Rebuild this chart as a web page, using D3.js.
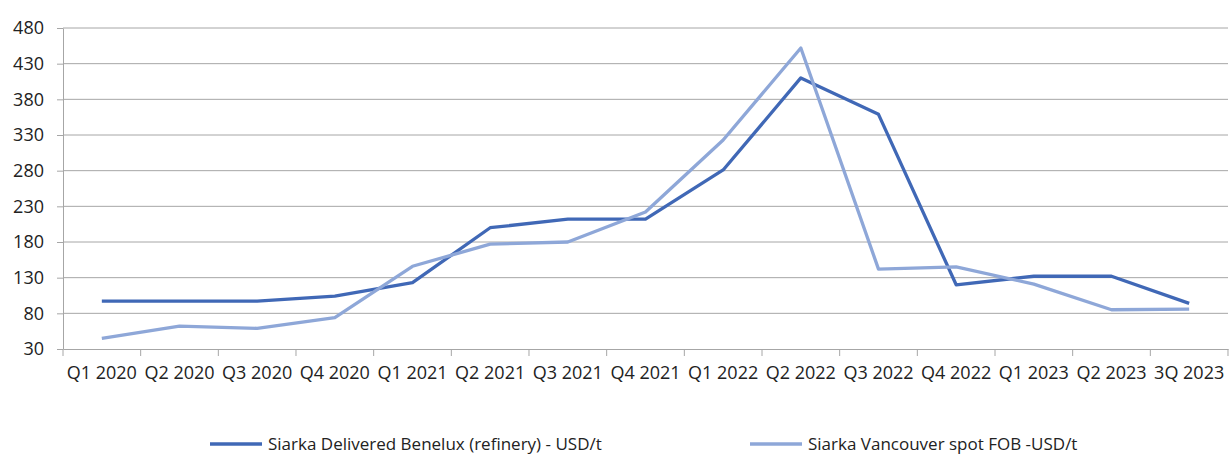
<!DOCTYPE html>
<html>
<head>
<meta charset="utf-8">
<script src="https://cdn.jsdelivr.net/npm/d3@7"></script>
<style>
  body { margin: 0; background: #fff; }
  text { font-family: "Open Sans", "Liberation Sans", sans-serif; fill: #222; }
</style>
</head>
<body>
<svg id="chart" width="1231" height="454"></svg>
<script>
// quarters on the x axis
const quarters = ["Q1 2020", "Q2 2020", "Q3 2020", "Q4 2020", "Q1 2021", "Q2 2021", "Q3 2021",
  "Q4 2021", "Q1 2022", "Q2 2022", "Q3 2022", "Q4 2022", "Q1 2023", "Q2 2023", "3Q 2023"];

// Siarka Delivered Benelux (refinery) - USD/t
const benelux = [97, 97, 97, 104, 123, 200, 212, 212, 281, 410, 359, 120, 132, 132, 94];
// Siarka Vancouver spot FOB -USD/t
const vancouver = [45, 62, 59, 74, 146, 177, 180, 222, 323, 452, 142, 145, 121, 85, 86];

const yTicks = [30, 80, 130, 180, 230, 280, 330, 380, 430, 480];
const seriesNames = ["Siarka Delivered Benelux (refinery) - USD/t", "Siarka Vancouver spot FOB -USD/t"];

var svg = d3.select("#chart"),
  plotLeft = 63, plotRight = 1228, plotTop = 28, plotBottom = 349;

var x = d3.scaleBand().domain(quarters).range([plotLeft, plotRight]);
var y = d3.scaleLinear().domain([30, 480]).range([plotBottom, plotTop]);

var colors = ["#4068B6", "#8EA7D8"];
var gridColor = "#a6a6a6";

// gridlines
svg.append("g")
  .selectAll("line")
  .data(yTicks.slice(1))
  .enter()
  .append("line")
  .attr("x1", plotLeft)
  .attr("x2", plotRight)
  .attr("y1", (d) => y(d))
  .attr("y2", (d) => y(d))
  .attr("stroke", gridColor)
  .attr("stroke-width", 1);

// y axis
var yAxis = svg.append("g")
  .attr("transform", "translate(" + plotLeft + ",0)")
  .call(d3.axisLeft(y).tickValues(yTicks).tickSize(6).tickSizeOuter(0).tickPadding(13));
yAxis.selectAll("text").style("font-size", "18px").attr("fill", "#222");

// x axis: ticks sit between categories
var xAxis = svg.append("g")
  .attr("transform", "translate(0," + plotBottom + ")")
  .call(d3.axisBottom(x).tickSize(0).tickSizeOuter(0).tickPadding(17));
xAxis.selectAll("text").style("font-size", "18px").attr("fill", "#222");
xAxis.selectAll(".tick")
  .append("line")
  .attr("x1", x.bandwidth() / 2)
  .attr("x2", x.bandwidth() / 2)
  .attr("y1", 0)
  .attr("y2", 7)
  .attr("stroke", gridColor);
xAxis.append("line")
  .attr("x1", plotLeft).attr("x2", plotLeft)
  .attr("y1", 0).attr("y2", 7)
  .attr("stroke", gridColor);

svg.selectAll(".domain").attr("stroke", gridColor);
yAxis.selectAll(".tick line").attr("stroke", gridColor);

// lines
var line = d3.line()
  .x((d, i) => x(quarters[i]) + x.bandwidth() / 2)
  .y((d) => y(d));

[benelux, vancouver].forEach(function (vals, i) {
  svg.append("path")
    .datum(vals)
    .attr("fill", "none")
    .attr("stroke", colors[i])
    .attr("stroke-width", 3.3)
    .attr("stroke-linejoin", "round")
    .attr("d", line);
});

// legend
var legendX = [210, 750];
seriesNames.forEach(function (name, i) {
  var g = svg.append("g").attr("transform", "translate(" + legendX[i] + ",444)");
  g.append("line")
    .attr("x1", 0).attr("x2", 52)
    .attr("stroke", colors[i])
    .attr("stroke-width", 3.3);
  g.append("text")
    .attr("x", 58)
    .attr("dy", "0.35em")
    .style("font-size", "17px")
    .text(name);
});
</script>
</body>
</html>
